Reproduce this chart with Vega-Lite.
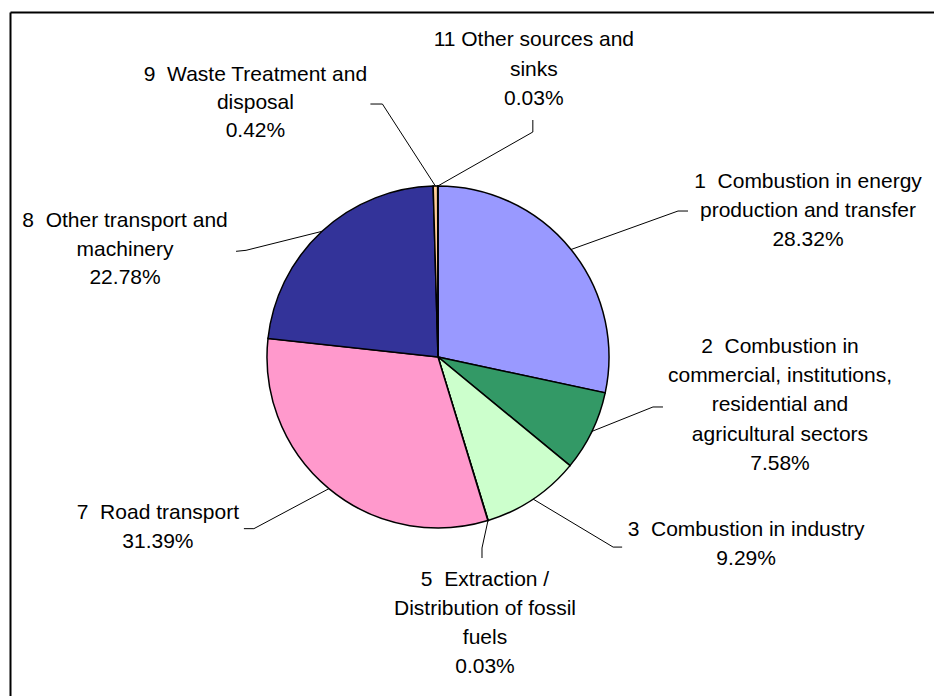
{
  "$schema": "https://vega.github.io/schema/vega-lite/v6.json",
  "width": 924,
  "height": 684,
  "autosize": {"type": "none"},
  "padding": {"left": 10, "top": 12, "right": 0, "bottom": 0},
  "background": "#ffffff",
  "config": {"view": {"stroke": null}},
  "data": {
    "values": [
      {"code": 1, "name": "1\u00a0 Combustion in energy\nproduction and transfer", "value": 28.32},
      {"code": 2, "name": "2\u00a0 Combustion in\ncommercial, institutions,\nresidential and\nagricultural sectors", "value": 7.58},
      {"code": 3, "name": "3\u00a0 Combustion in industry", "value": 9.29},
      {"code": 5, "name": "5\u00a0 Extraction /\nDistribution of fossil\nfuels", "value": 0.03},
      {"code": 7, "name": "7\u00a0 Road transport", "value": 31.39},
      {"code": 8, "name": "8\u00a0 Other transport and\nmachinery", "value": 22.78},
      {"code": 9, "name": "9\u00a0 Waste Treatment and\ndisposal", "value": 0.42},
      {"code": 11, "name": "11 Other sources and\nsinks", "value": 0.03}
    ]
  },
  "transform": [
    {"window": [{"op": "sum", "field": "value", "as": "cum"}], "sort": [{"field": "code", "order": "ascending"}], "frame": [null, 0]},
    {"joinaggregate": [{"op": "sum", "field": "value", "as": "total"}]},
    {"calculate": "(datum.cum - datum.value / 2) / datum.total * 2 * PI", "as": "mid"},
    {"calculate": "171 * sin(datum.mid)", "as": "ex"},
    {"calculate": "171 * cos(datum.mid)", "as": "ey"},
    {"calculate": "datum.name + '\\n' + format(datum.value, '.2f') + '%'", "as": "lbl"}
  ],
  "layer": [
    {
      "mark": {"type": "arc", "radius": 171, "stroke": "#000000", "strokeWidth": 1.5},
      "encoding": {
        "x": {"datum": 0, "type": "quantitative", "scale": {"domain": [-428, 496], "nice": false, "zero": false}, "axis": {"orient": "top", "domain": true, "domainColor": "#000000", "domainWidth": 2, "ticks": false, "labels": false, "grid": false, "title": null}},
        "y": {"datum": 0, "type": "quantitative", "scale": {"domain": [-339, 345], "nice": false, "zero": false}, "axis": {"orient": "left", "domain": true, "domainColor": "#000000", "domainWidth": 2, "ticks": false, "labels": false, "grid": false, "title": null}},
        "theta": {"field": "value", "type": "quantitative", "stack": true},
        "order": {"field": "code", "type": "quantitative", "sort": "ascending"},
        "color": {
          "field": "code", "type": "nominal", "legend": null,
          "scale": {"domain": [1, 2, 3, 5, 7, 8, 9, 11], "range": ["#9999FF", "#339966", "#CCFFCC", "#FFFF99", "#FF99CC", "#333399", "#FFCC99", "#CCFFFF"]}
        }
      }
    },
    {
      "encoding": {
        "x": {"field": "ex", "type": "quantitative", "scale": {"domain": [-428, 496], "nice": false, "zero": false}, "axis": {"orient": "top", "domain": true, "domainColor": "#000000", "domainWidth": 2, "ticks": false, "labels": false, "grid": false, "title": null}},
        "y": {"field": "ey", "type": "quantitative", "scale": {"domain": [-339, 345], "nice": false, "zero": false}, "axis": {"orient": "left", "domain": true, "domainColor": "#000000", "domainWidth": 2, "ticks": false, "labels": false, "grid": false, "title": null}}
      },
      "layer": [
        {"transform": [{"filter": "datum.code == 1"}], "layer": [
          {"mark": {"type": "text", "dx": 237, "dy": -68, "align": "center", "baseline": "middle", "lineBreak": "\n", "lineHeight": 29, "font": "Liberation Sans", "fontSize": 21, "color": "#000000"}, "encoding": {"text": {"field": "lbl"}}},
          {"mark": {"type": "rule", "color": "#000000", "strokeWidth": 1, "x2Offset": 107, "y2Offset": -38.5}, "encoding": {"x2": {"field": "ex"}, "y2": {"field": "ey"}}},
          {"mark": {"type": "rule", "color": "#000000", "strokeWidth": 1, "xOffset": 107, "yOffset": -38.5, "x2Offset": 117, "y2Offset": -38.5}, "encoding": {"x2": {"field": "ex"}, "y2": {"field": "ey"}}}
        ]},
        {"transform": [{"filter": "datum.code == 2"}], "layer": [
          {"mark": {"type": "text", "dx": 188, "dy": -84.5, "align": "center", "baseline": "middle", "lineBreak": "\n", "lineHeight": 29.3, "font": "Liberation Sans", "fontSize": 21, "color": "#000000"}, "encoding": {"text": {"field": "lbl"}}},
          {"mark": {"type": "rule", "color": "#000000", "strokeWidth": 1, "x2Offset": 61, "y2Offset": -24.4}, "encoding": {"x2": {"field": "ex"}, "y2": {"field": "ey"}}},
          {"mark": {"type": "rule", "color": "#000000", "strokeWidth": 1, "xOffset": 61, "yOffset": -24.4, "x2Offset": 71, "y2Offset": -24.4}, "encoding": {"x2": {"field": "ex"}, "y2": {"field": "ey"}}}
        ]},
        {"transform": [{"filter": "datum.code == 3"}], "layer": [
          {"mark": {"type": "text", "dx": 213, "dy": 31, "align": "center", "baseline": "middle", "lineBreak": "\n", "lineHeight": 29, "font": "Liberation Sans", "fontSize": 21, "color": "#000000"}, "encoding": {"text": {"field": "lbl"}}},
          {"mark": {"type": "rule", "color": "#000000", "strokeWidth": 1, "x2Offset": 80, "y2Offset": 48}, "encoding": {"x2": {"field": "ex"}, "y2": {"field": "ey"}}},
          {"mark": {"type": "rule", "color": "#000000", "strokeWidth": 1, "xOffset": 80, "yOffset": 48, "x2Offset": 89, "y2Offset": 48}, "encoding": {"x2": {"field": "ex"}, "y2": {"field": "ey"}}}
        ]},
        {"transform": [{"filter": "datum.code == 5"}], "layer": [
          {"mark": {"type": "text", "dx": -3, "dy": 59.5, "align": "center", "baseline": "middle", "lineBreak": "\n", "lineHeight": 29, "font": "Liberation Sans", "fontSize": 21, "color": "#000000"}, "encoding": {"text": {"field": "lbl"}}},
          {"mark": {"type": "rule", "color": "#000000", "strokeWidth": 1, "x2Offset": -6, "y2Offset": 27.5}, "encoding": {"x2": {"field": "ex"}, "y2": {"field": "ey"}}},
          {"mark": {"type": "rule", "color": "#000000", "strokeWidth": 1, "xOffset": -6, "yOffset": 27.5, "x2Offset": -6, "y2Offset": 37.5}, "encoding": {"x2": {"field": "ex"}, "y2": {"field": "ey"}}}
        ]},
        {"transform": [{"filter": "datum.code == 7"}], "layer": [
          {"mark": {"type": "text", "dx": -171, "dy": 24, "align": "center", "baseline": "middle", "lineBreak": "\n", "lineHeight": 29, "font": "Liberation Sans", "fontSize": 21, "color": "#000000"}, "encoding": {"text": {"field": "lbl"}}},
          {"mark": {"type": "rule", "color": "#000000", "strokeWidth": 1, "x2Offset": -75, "y2Offset": 40}, "encoding": {"x2": {"field": "ex"}, "y2": {"field": "ey"}}},
          {"mark": {"type": "rule", "color": "#000000", "strokeWidth": 1, "xOffset": -75, "yOffset": 40, "x2Offset": -85, "y2Offset": 40}, "encoding": {"x2": {"field": "ex"}, "y2": {"field": "ey"}}}
        ]},
        {"transform": [{"filter": "datum.code == 8"}], "layer": [
          {"mark": {"type": "text", "dx": -197, "dy": -10.3, "align": "center", "baseline": "middle", "lineBreak": "\n", "lineHeight": 28.5, "font": "Liberation Sans", "fontSize": 21, "color": "#000000"}, "encoding": {"text": {"field": "lbl"}}},
          {"mark": {"type": "rule", "color": "#000000", "strokeWidth": 1, "x2Offset": -76, "y2Offset": 19}, "encoding": {"x2": {"field": "ex"}, "y2": {"field": "ey"}}},
          {"mark": {"type": "rule", "color": "#000000", "strokeWidth": 1, "xOffset": -76, "yOffset": 19, "x2Offset": -86, "y2Offset": 20}, "encoding": {"x2": {"field": "ex"}, "y2": {"field": "ey"}}}
        ]},
        {"transform": [{"filter": "datum.code == 9"}], "layer": [
          {"mark": {"type": "text", "dx": -180, "dy": -111, "align": "center", "baseline": "middle", "lineBreak": "\n", "lineHeight": 28, "font": "Liberation Sans", "fontSize": 21, "color": "#000000"}, "encoding": {"text": {"field": "lbl"}}},
          {"mark": {"type": "rule", "color": "#000000", "strokeWidth": 1, "x2Offset": -53, "y2Offset": -82}, "encoding": {"x2": {"field": "ex"}, "y2": {"field": "ey"}}},
          {"mark": {"type": "rule", "color": "#000000", "strokeWidth": 1, "xOffset": -53, "yOffset": -82, "x2Offset": -65, "y2Offset": -82}, "encoding": {"x2": {"field": "ex"}, "y2": {"field": "ey"}}}
        ]},
        {"transform": [{"filter": "datum.code == 11"}], "layer": [
          {"mark": {"type": "text", "dx": 96, "dy": -146, "align": "center", "baseline": "middle", "lineBreak": "\n", "lineHeight": 29.5, "font": "Liberation Sans", "fontSize": 21, "color": "#000000"}, "encoding": {"text": {"field": "lbl"}}},
          {"mark": {"type": "rule", "color": "#000000", "strokeWidth": 1, "x2Offset": 95, "y2Offset": -54}, "encoding": {"x2": {"field": "ex"}, "y2": {"field": "ey"}}},
          {"mark": {"type": "rule", "color": "#000000", "strokeWidth": 1, "xOffset": 95, "yOffset": -54, "x2Offset": 95, "y2Offset": -66}, "encoding": {"x2": {"field": "ex"}, "y2": {"field": "ey"}}}
        ]}
      ]
    }
  ]
}
